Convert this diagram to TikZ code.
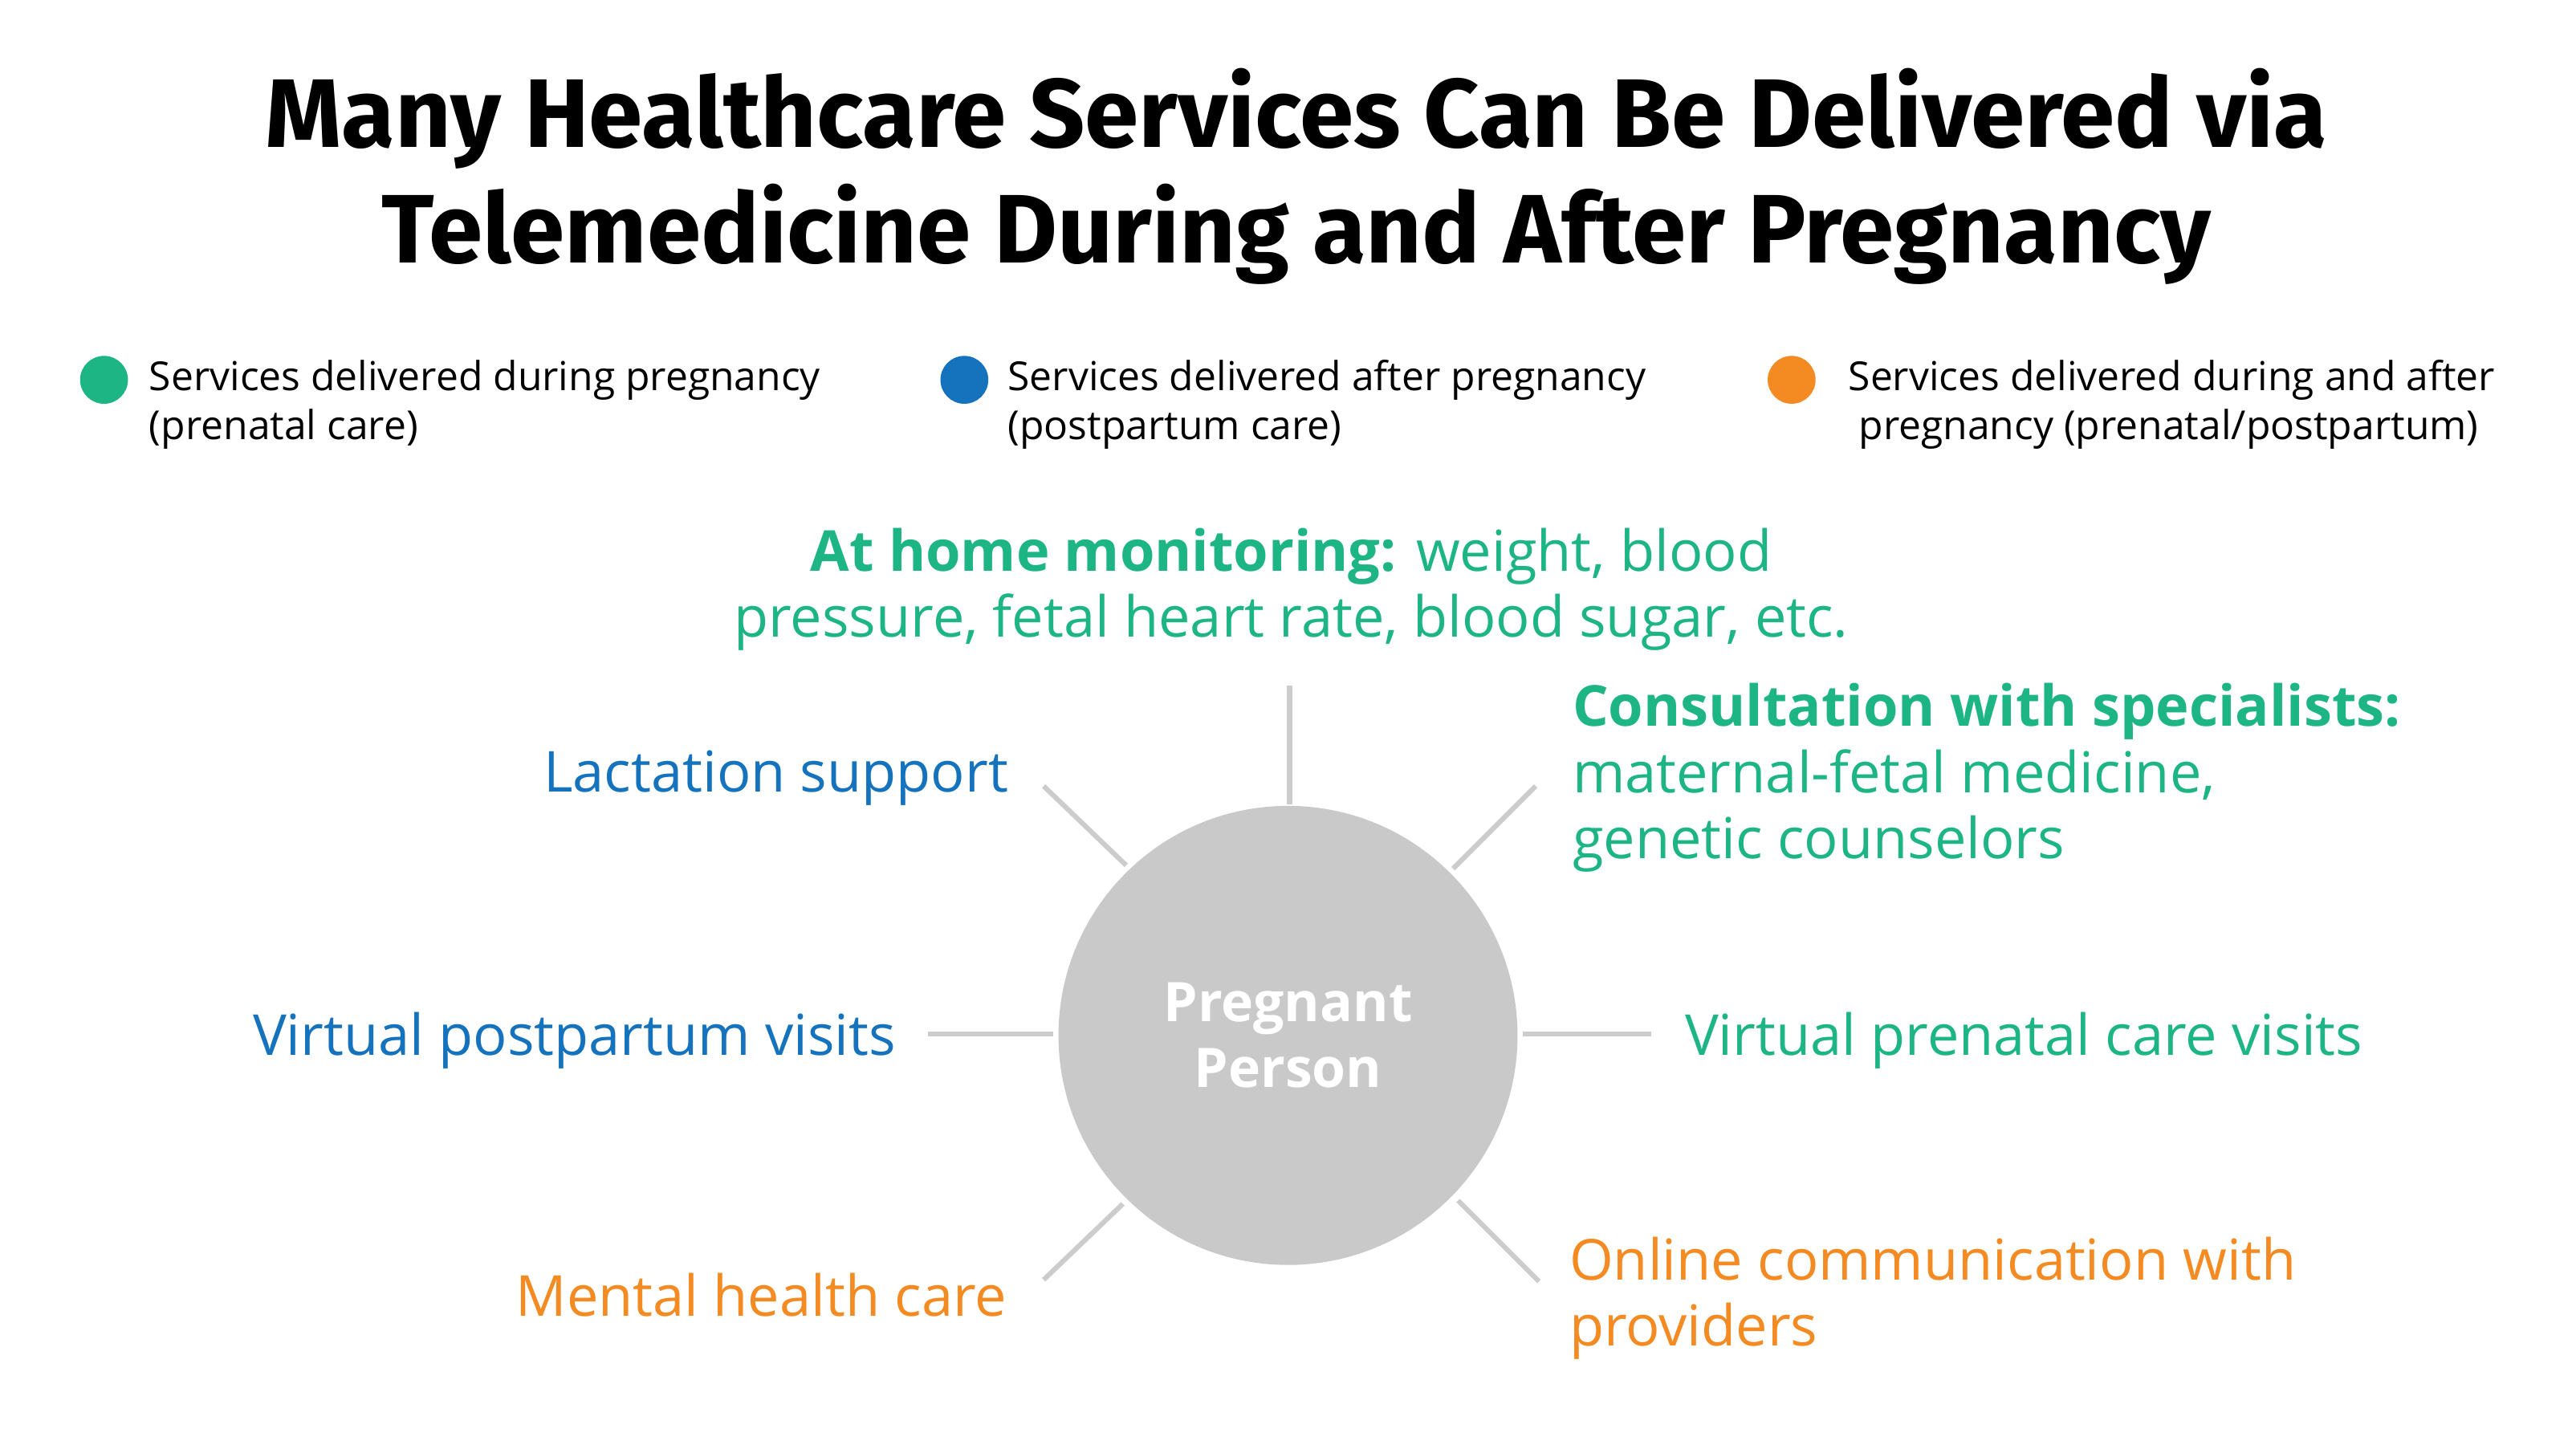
\documentclass[tikz,border=0pt]{standalone}
\usepackage{fontspec}
\setmainfont{Open Sans}
\newfontfamily\titlefont{Fira Sans}
\definecolor{cgreen}{HTML}{1DB584}
\definecolor{cblue}{HTML}{1573BD}
\definecolor{corange}{HTML}{F48A22}
\definecolor{cgray}{HTML}{C9C9C9}
\definecolor{cline}{HTML}{CCCCCC}
\begin{document}
\begin{tikzpicture}[x=0.5pt,y=-0.5pt,
  ttl/.style={font=\titlefont\bfseries\fontsize{29.5}{35}\selectfont,align=center},
  leg/.style={font=\fontsize{12.1}{15}\selectfont,anchor=west,align=left,inner sep=0},
  dot/.style={circle,minimum size=14.5pt,inner sep=0},
  lab/.style={font=\fontsize{17.1}{20}\selectfont,inner sep=0},
  spoke/.style={draw=cline,line width=1.5pt}]
\useasboundingbox (0,0) rectangle (1560,875);
\node[ttl] (title) at (785,107) {Many Healthcare Services Can Be Delivered via\\Telemedicine During and After Pregnancy};
\node[dot,fill=cgreen] (d1) at (63,230) {};
\node[dot,fill=cblue] (d2) at (584,230) {};
\node[dot,fill=corange] (d3) at (1085,230) {};
\node[leg] (l1) at (90,245) {Services delivered during pregnancy\\(prenatal care)};
\node[leg] (l2) at (610,245) {Services delivered after pregnancy\\(postpartum care)};
\node[leg] (l3) at (1119,245) {Services delivered during and after\\\ pregnancy (prenatal/postpartum)};
\node[circle,fill=cgray,minimum size=139pt,inner sep=0,text=white,align=center,font=\bfseries\fontsize{16.5}{20}\selectfont] (p) at (780,627) {Pregnant\\Person};
\node[lab,text=cgreen,align=center] (top) at (782,357) {\textbf{At home monitoring:} weight, blood\\pressure, fetal heart rate, blood sugar, etc.};
\node[lab,text=cblue,anchor=east] (lac) at (611,471) {Lactation support};
\node[lab,text=cgreen,anchor=west,align=left] (con) at (952,471) {\textbf{Consultation with specialists:}\\maternal-fetal medicine,\\genetic counselors};
\node[lab,text=cblue,anchor=east] (vpp) at (543,630) {Virtual postpartum visits};
\node[lab,text=cgreen,anchor=west] (vpn) at (1020,630) {Virtual prenatal care visits};
\node[lab,text=corange,anchor=east] (mh) at (610,784) {Mental health care};
\node[lab,text=corange,anchor=west,align=left] (oc) at (950,786) {Online communication with\\providers};
\coordinate (a1) at (781,415); \coordinate (a2) at (781,487);
\coordinate (b1) at (632,476); \coordinate (b2) at (682,524);
\coordinate (c1) at (880,526); \coordinate (c2) at (930,476);
\coordinate (e1) at (562,626); \coordinate (e2) at (638,626);
\coordinate (f1) at (922,626); \coordinate (f2) at (1000,626);
\coordinate (g1) at (632,775); \coordinate (g2) at (680,729);
\coordinate (h1) at (883,727); \coordinate (h2) at (932,776);
\draw[spoke] (a1)--(a2); \draw[spoke] (b1)--(b2); \draw[spoke] (c1)--(c2);
\draw[spoke] (e1)--(e2); \draw[spoke] (f1)--(f2); \draw[spoke] (g1)--(g2);
\draw[spoke] (h1)--(h2);
\end{tikzpicture}
\end{document}
